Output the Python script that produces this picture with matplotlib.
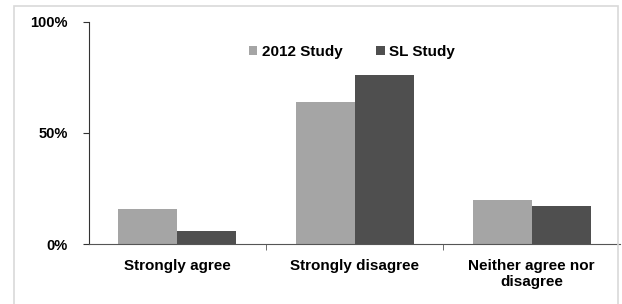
import numpy as np
import matplotlib
matplotlib.use('Agg')
import matplotlib.pyplot as plt
from matplotlib.patches import Rectangle
from matplotlib.ticker import FixedLocator, PercentFormatter

categories = ['Strongly agree', 'Strongly disagree', 'Neither agree nor\ndisagree']
study_2012 = [16, 64, 20]
sl_study = [6, 76, 17]
series_names = ['2012 Study', 'SL Study']
colors = ['#a5a5a5', '#4f4f4f']

plt.rcParams['font.family'] = ['Liberation Sans', 'DejaVu Sans']
plt.rcParams['font.weight'] = 'bold'

fig = plt.figure(figsize=(6.22, 3.04), dpi=100)
ax = fig.add_axes([0.143, 0.197, 0.854, 0.731])

# light grey frame around the chart area
fig.patches.append(Rectangle((14 / 622, -0.1), 604 / 622, 1 - 6 / 304 + 0.1,
                             transform=fig.transFigure, fill=False,
                             edgecolor='#d9d9d9', linewidth=1.2))

x = np.arange(len(categories))
w = 1 / 3
ax.bar(x - w / 2, study_2012, w, color=colors[0], label=series_names[0])
ax.bar(x + w / 2, sl_study, w, color=colors[1], label=series_names[1])

ax.set_xlim(-0.5, len(categories) - 0.5)
ax.set_ylim(0, 100)
ax.set_yticks([0, 50, 100])
ax.yaxis.set_major_formatter(PercentFormatter(decimals=0))

ax.set_xticks(x)
ax.set_xticklabels(categories, fontsize=11, fontweight='bold', linespacing=1.15)
ax.tick_params(axis='x', which='major', length=0, pad=11)
ax.xaxis.set_minor_locator(FixedLocator([0.5, 1.5]))
ax.tick_params(axis='x', which='minor', length=4, color='#555555', direction='out')
ax.tick_params(axis='y', length=4, color='#333333', labelsize=10.5, pad=11)
for lab in ax.get_yticklabels():
    lab.set_fontweight('bold')

for s in ['top', 'right']:
    ax.spines[s].set_visible(False)
ax.spines['left'].set_color('#333333')
ax.spines['bottom'].set_color('#555555')

ax.legend(loc='upper center', bbox_to_anchor=(0.495, 0.96), ncol=2, frameon=False,
          handlelength=0.55, handleheight=0.55, handletextpad=0.3,
          columnspacing=2.2, prop={'weight': 'bold', 'size': 11})

fig.savefig('out.png', dpi=100)
